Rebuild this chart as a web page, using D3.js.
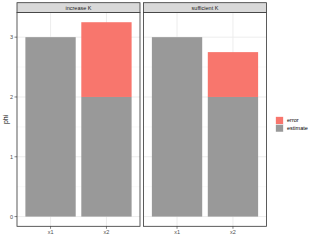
<!DOCTYPE html>
<html><head><meta charset="utf-8">
<script src="https://cdn.jsdelivr.net/npm/d3@7"></script>
<style>body{margin:0;background:#fff}svg{display:block}text{font-family:"Liberation Sans",Arial,sans-serif}</style>
</head><body>
<script>
const panels = ["increase K", "sufficient K"];
const categories = ["x1", "x2"];
const estimate = [[3, 2], [3, 2]];
const error = [[0, 1.25], [0, 0.75]];
const yTicks = [0, 1, 2, 3];
const legendLabels = ["error", "estimate"];
const colors = {error: "#F8766D", estimate: "#999999"};

const W = 315, H = 245;
const svg = d3.select("body").append("svg").attr("width", W).attr("height", H);
const panelLeft = [17, 143.5], panelW = 123;
const pTop = 12.5, pBottom = 226.3, stripTop = 2.7;
const ymax = d3.max(estimate.flatMap((e,i)=>e.map((v,j)=>v+error[i][j])));
const y = d3.scaleLinear().domain([-0.05*ymax, ymax*1.05]).range([pBottom, pTop]);

panels.forEach((p, i) => {
  const x0 = panelLeft[i];
  const xc = d3.scaleLinear().domain([0.4, 2.6]).range([x0, x0+panelW]);
  const g = svg.append("g");
  g.append("rect").attr("x", x0).attr("y", pTop).attr("width", panelW).attr("height", pBottom-pTop).attr("fill", "#fff");
  const minor = yTicks.slice(0,-1).map(t=>t+0.5);
  g.selectAll(".mn").data(minor).enter().append("line")
    .attr("x1", x0).attr("x2", x0+panelW).attr("y1", d=>y(d)).attr("y2", d=>y(d))
    .attr("stroke", "#F2F2F2").attr("stroke-width", 0.5);
  g.selectAll(".mj").data(yTicks).enter().append("line")
    .attr("x1", x0).attr("x2", x0+panelW).attr("y1", d=>y(d)).attr("y2", d=>y(d))
    .attr("stroke", "#EBEBEB").attr("stroke-width", 0.9);
  g.selectAll(".vx").data(categories).enter().append("line")
    .attr("x1", (d,j)=>xc(j+1)).attr("x2", (d,j)=>xc(j+1)).attr("y1", pTop).attr("y2", pBottom)
    .attr("stroke", "#EBEBEB").attr("stroke-width", 0.9);
  categories.forEach((c, j) => {
    const cx = xc(j+1), bw = xc(1.45)-xc(0.55);
    g.append("rect").attr("x", cx-bw/2).attr("width", bw)
      .attr("y", y(estimate[i][j])).attr("height", y(0)-y(estimate[i][j])).attr("fill", colors.estimate);
    if (error[i][j] > 0) {
      g.append("rect").attr("x", cx-bw/2).attr("width", bw)
        .attr("y", y(estimate[i][j]+error[i][j])).attr("height", y(estimate[i][j])-y(estimate[i][j]+error[i][j]))
        .attr("fill", colors.error);
    }
    g.append("line").attr("x1", cx).attr("x2", cx).attr("y1", pBottom).attr("y2", pBottom+2.5)
      .attr("stroke", "#333").attr("stroke-width", 0.6);
    g.append("text").attr("x", cx).attr("y", pBottom+8).attr("text-anchor", "middle")
      .attr("font-size", 5.5).attr("fill", "#4D4D4D").text(c);
  });
  g.append("rect").attr("x", x0).attr("y", pTop).attr("width", panelW).attr("height", pBottom-pTop)
    .attr("fill", "none").attr("stroke", "#333").attr("stroke-width", 0.8);
  g.append("rect").attr("x", x0).attr("y", stripTop).attr("width", panelW).attr("height", pTop-stripTop)
    .attr("fill", "#D9D9D9").attr("stroke", "#333").attr("stroke-width", 0.8);
  g.append("text").attr("x", x0+panelW/2).attr("y", (pTop+stripTop)/2+2).attr("text-anchor", "middle")
    .attr("font-size", 5.5).attr("fill", "#1A1A1A").text(p);
});

const ya = svg.append("g");
yTicks.forEach(t => {
  ya.append("line").attr("x1", panelLeft[0]-2.5).attr("x2", panelLeft[0]).attr("y1", y(t)).attr("y2", y(t))
    .attr("stroke", "#333").attr("stroke-width", 0.6);
  ya.append("text").attr("x", panelLeft[0]-4).attr("y", y(t)+2).attr("text-anchor", "end")
    .attr("font-size", 5.5).attr("fill", "#4D4D4D").text(t);
});
svg.append("text").attr("transform", `translate(7.5,${(pTop+pBottom)/2}) rotate(-90)`)
  .attr("text-anchor", "middle").attr("font-size", 7).attr("fill", "#000").text("phi");

const lg = svg.append("g");
legendLabels.forEach((l, k) => {
  const ky = 116.7 + k*7.7;
  lg.append("rect").attr("x", 275.7).attr("y", ky).attr("width", 7.6).attr("height", 7.6)
    .attr("fill", colors[l]).attr("stroke", "#fff").attr("stroke-width", 0.5);
  lg.append("text").attr("x", 287).attr("y", ky+5.7).attr("font-size", 5.5).attr("fill", "#000").text(l);
});
</script>
</body></html>
